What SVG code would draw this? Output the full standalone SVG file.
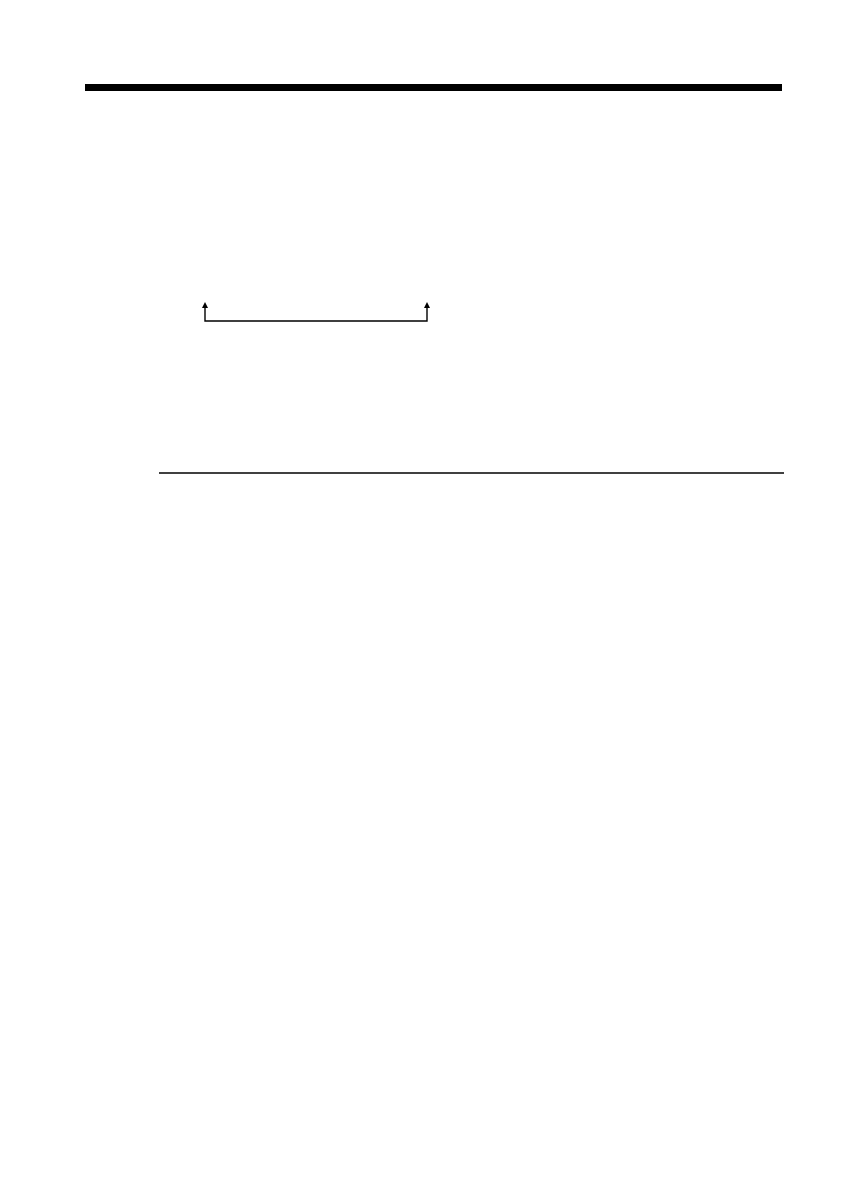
<svg xmlns="http://www.w3.org/2000/svg" width="841" height="1191" viewBox="0 0 841 1191">
<style>
.conn{fill:none;stroke:#000;stroke-width:1.4}
.rule{stroke:#000;stroke-width:1.3}
</style>
<defs>
<marker id="ah" markerWidth="8" markerHeight="8" refX="4" refY="1" orient="auto" markerUnits="userSpaceOnUse">
<path d="M1,6 L4,0 L7,6 Z" fill="#000" transform="rotate(0)"/>
</marker>
</defs>
<rect width="841" height="1191" fill="#fff"/>
<rect id="top-bar" x="85" y="84" width="697" height="7" fill="#000"/>
<line id="rule" class="rule" x1="159" y1="473" x2="784" y2="473"/>
<g id="connectors">
<path class="conn" d="M205,307 L205,321 L427,321 L427,307"/>
<path d="M202,308 L205,302 L208,308 Z" fill="#000"/>
<path d="M424,308 L427,302 L430,308 Z" fill="#000"/>
</g>
</svg>
